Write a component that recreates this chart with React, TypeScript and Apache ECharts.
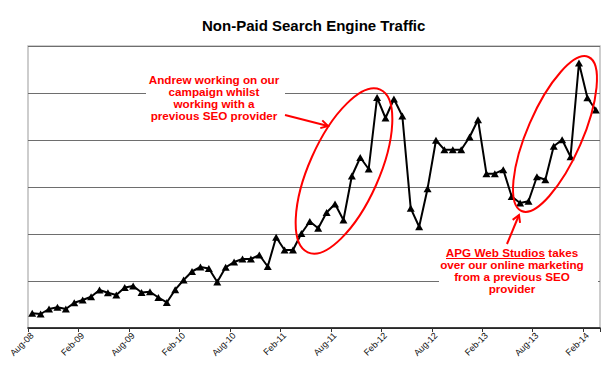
import React, { useEffect, useRef } from "react";
import * as echarts from "echarts";

const months: string[] = [
  "Aug-08", "Sep-08", "Oct-08", "Nov-08", "Dec-08",
  "Jan-09", "Feb-09", "Mar-09", "Apr-09", "May-09", "Jun-09", "Jul-09", "Aug-09", "Sep-09", "Oct-09", "Nov-09", "Dec-09",
  "Jan-10", "Feb-10", "Mar-10", "Apr-10", "May-10", "Jun-10", "Jul-10", "Aug-10", "Sep-10", "Oct-10", "Nov-10", "Dec-10",
  "Jan-11", "Feb-11", "Mar-11", "Apr-11", "May-11", "Jun-11", "Jul-11", "Aug-11", "Sep-11", "Oct-11", "Nov-11", "Dec-11",
  "Jan-12", "Feb-12", "Mar-12", "Apr-12", "May-12", "Jun-12", "Jul-12", "Aug-12", "Sep-12", "Oct-12", "Nov-12", "Dec-12",
  "Jan-13", "Feb-13", "Mar-13", "Apr-13", "May-13", "Jun-13", "Jul-13", "Aug-13", "Sep-13", "Oct-13", "Nov-13", "Dec-13",
  "Jan-14", "Feb-14", "Mar-14",
];

const traffic: number[] = [
  313, 298, 404, 440, 404, 538, 596, 666, 809, 751,
  702, 862, 894, 755, 772, 649, 543, 815, 1021, 1202,
  1298, 1266, 979, 1291, 1404, 1468, 1468, 1553, 1309, 1930,
  1660, 1660, 2011, 2266, 2121, 2457, 2638, 2298, 3234, 3628,
  3383, 4904, 4468, 4872, 4511, 2547, 2155, 2964, 3994, 3794,
  3794, 3794, 4064, 4432, 3283, 3283, 3368, 2798, 2660, 2696,
  3219, 3155, 3866, 4006, 3645, 5638, 4898, 4638,
];

const titleText = "Non-Paid Search Engine Traffic";
const note1 = "Andrew working on our\ncampaign whilst\nworking with a\nprevious SEO provider";
const note2 = "APG Web Studios takes\nover our online marketing\nfrom a previous SEO\nprovider";

const RED = "#ff0000";
const FONT = "'Liberation Sans', Arial, sans-serif";

function arrow(x1: number, y1: number, x2: number, y2: number) {
  const dx = x2 - x1;
  const dy = y2 - y1;
  const len = Math.sqrt(dx * dx + dy * dy);
  const ux = dx / len;
  const uy = dy / len;
  const hl = 8;
  const ang = Math.PI / 6;
  const rot = (a: number) => [
    ux * Math.cos(a) - uy * Math.sin(a),
    ux * Math.sin(a) + uy * Math.cos(a),
  ];
  const [ax, ay] = rot(ang);
  const [bx, by] = rot(-ang);
  return [
    {
      type: "line",
      shape: { x1, y1, x2, y2 },
      style: { stroke: RED, lineWidth: 2 },
      z: 100,
    },
    {
      type: "polyline",
      shape: {
        points: [
          [x2 - ax * hl, y2 - ay * hl],
          [x2, y2],
          [x2 - bx * hl, y2 - by * hl],
        ],
      },
      style: { stroke: RED, lineWidth: 2, fill: null },
      z: 100,
    },
  ];
}

export default function App() {
  const ref = useRef<HTMLDivElement>(null);

  useEffect(() => {
    if (!ref.current) return;
    const chart = echarts.init(ref.current, null, { renderer: "svg" });
    chart.setOption({
      animation: false,
      backgroundColor: "#ffffff",
      title: {
        text: titleText,
        left: 197,
        top: 13,
        textStyle: { fontFamily: FONT, fontSize: 15, fontWeight: "bold", color: "#000" },
      },
      grid: {
        left: 28,
        right: 9,
        top: 46,
        bottom: 44,
        show: true,
        borderColor: "#bdbdbd",
        borderWidth: 1.5,
        backgroundColor: "#ffffff",
      },
      xAxis: {
        type: "category",
        data: months,
        boundaryGap: true,
        axisLine: { show: true, lineStyle: { color: "#111", width: 1.5 } },
        axisTick: { show: true, interval: 5, length: 4, lineStyle: { color: "#333" } },
        axisLabel: {
          interval: 5,
          rotate: 45,
          fontFamily: FONT,
          fontSize: 9,
          color: "#111",
          margin: 6,
        },
        splitLine: { show: false },
      },
      yAxis: {
        type: "value",
        min: 0,
        max: 6000,
        interval: 1000,
        axisLabel: { show: false },
        axisTick: { show: false },
        axisLine: { show: false },
        splitLine: { show: true, lineStyle: { color: "#6e6e6e", width: 1 } },
      },
      series: [
        {
          type: "line",
          data: traffic,
          symbol: "triangle",
          symbolSize: [8, 7],
          showSymbol: true,
          showAllSymbol: true,
          lineStyle: { color: "#000", width: 2 },
          itemStyle: { color: "#000" },
          z: 3,
        },
      ],
      graphic: [
        {
          type: "ellipse",
          x: 344,
          y: 171,
          rotation: (66 * Math.PI) / 180,
          shape: { cx: 0, cy: 0, rx: 89, ry: 35 },
          style: { stroke: RED, lineWidth: 2, fill: null },
          z: 100,
        },
        {
          type: "ellipse",
          x: 555,
          y: 134,
          rotation: (66.5 * Math.PI) / 180,
          shape: { cx: 0, cy: 0, rx: 84, ry: 27.5 },
          style: { stroke: RED, lineWidth: 2, fill: null },
          z: 100,
        },
        {
          type: "rect",
          shape: { x: 146, y: 72, width: 139, height: 50 },
          style: { fill: "#ffffff" },
          z: 90,
        },
        {
          type: "text",
          x: 214,
          y: 73,
          style: {
            text: note1,
            fill: RED,
            fontFamily: FONT,
            fontSize: 11.7,
            fontWeight: "bold",
            align: "center",
            verticalAlign: "top",
            lineHeight: 12,
          },
          z: 101,
        },
        {
          type: "rect",
          shape: { x: 439, y: 245, width: 159, height: 50 },
          style: { fill: "#ffffff" },
          z: 90,
        },
        {
          type: "text",
          x: 512,
          y: 246.5,
          style: {
            text: note2,
            fill: RED,
            fontFamily: FONT,
            fontSize: 11.7,
            fontWeight: "bold",
            align: "center",
            verticalAlign: "top",
            lineHeight: 12,
          },
          z: 101,
        },
        {
          type: "line",
          shape: { x1: 446, y1: 258.5, x2: 545, y2: 258.5 },
          style: { stroke: RED, lineWidth: 1 },
          z: 101,
        },
        ...arrow(285, 115, 328, 126),
        ...arrow(507, 244, 519, 215),
      ],
    });
    return () => {
      chart.dispose();
    };
  }, []);

  return (
    <div
      ref={ref}
      style={{ position: "fixed", left: 0, top: 0, width: 609, height: 372 }}
    />
  );
}
